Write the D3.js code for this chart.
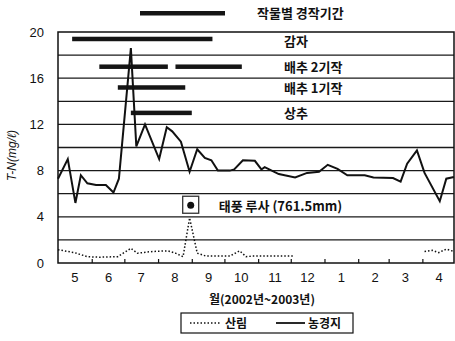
<!DOCTYPE html>
<html>
<head>
<meta charset="utf-8">
<script src="https://cdn.jsdelivr.net/npm/d3@7"></script>
<style>
  body { margin: 0; background: #fff; }
  svg { display: block; }
</style>
</head>
<body>
<svg id="chart" width="455" height="341"></svg>
<script>
// 농경지 (farmland) T-N, mg/l
const farmDates = [
  "2002-05-01", "2002-05-10", "2002-05-17", "2002-05-22", "2002-05-28", "2002-06-05",
  "2002-06-14", "2002-06-21", "2002-06-26", "2002-07-07", "2002-07-12", "2002-07-20",
  "2002-08-02", "2002-08-09", "2002-08-14", "2002-08-22", "2002-08-30", "2002-09-06",
  "2002-09-13", "2002-09-19", "2002-09-25", "2002-10-06", "2002-10-10", "2002-10-18",
  "2002-10-29", "2002-11-04", "2002-11-07", "2002-11-20", "2002-12-05", "2002-12-16",
  "2002-12-27", "2003-01-04", "2003-01-13", "2003-01-22", "2003-02-07", "2003-02-15",
  "2003-03-05", "2003-03-12", "2003-03-18", "2003-03-27", "2003-04-03", "2003-04-17",
  "2003-04-23", "2003-04-30"
];
const farmValues = [
  7.3, 9.0, 5.2, 7.6, 6.9, 6.75,
  6.75, 6.1, 7.3, 18.6, 10.1, 12.0,
  9.0, 11.75, 11.4, 10.5, 7.9, 9.85,
  9.1, 8.9, 8.0, 8.0, 8.1, 8.9,
  8.85, 8.1, 8.3, 7.7, 7.4, 7.8,
  7.9, 8.5, 8.15, 7.6, 7.6, 7.4,
  7.35, 7.05, 8.6, 9.75, 7.8, 5.35,
  7.3, 7.45
];

// 산림 (forest) T-N, mg/l; null = no measurement (gap in winter)
const forestDates = [
  "2002-05-01", "2002-05-16", "2002-05-28", "2002-06-08", "2002-06-25", "2002-06-30",
  "2002-07-07", "2002-07-13", "2002-07-27", "2002-08-10", "2002-08-17", "2002-08-24",
  "2002-08-30", "2002-09-06", "2002-09-14", "2002-10-06", "2002-10-15", "2002-10-21",
  "2002-10-27", "2002-12-04", "2003-01-01", "2003-04-03", "2003-04-10", "2003-04-16",
  "2003-04-23", "2003-04-30"
];
const forestValues = [
  1.15, 0.9, 0.55, 0.5, 0.55, 0.85,
  1.27, 0.85, 1.0, 1.05, 0.85, 0.55,
  3.9, 0.85, 0.6, 0.6, 1.05, 0.55,
  0.6, 0.6, null, 1.0, 1.1, 0.9,
  1.2, 1.0
];

// 작물별 경작기간 (cultivation period per crop)
const cropNames = ["감자", "배추 2기작", "배추 1기작", "상추"];
const cropPeriods = [
  [["2002-05-14", "2002-09-20"]],
  [["2002-06-08", "2002-08-10"], ["2002-08-17", "2002-10-17"]],
  [["2002-06-25", "2002-08-26"]],
  [["2002-07-07", "2002-09-01"]]
];

const typhoonDate = "2002-08-31";
const typhoonLabel = "태풍 루사 (761.5mm)";

const yTickValues = [0, 4, 8, 12, 16, 20];
const gridValues = [2, 4, 6, 8, 10, 12, 14, 16, 18];
const xTitle = "월(2002년~2003년)";
const yTitle = "T-N(mg/ℓ)";
const seriesNames = ["산림", "농경지"];

const parse = d3.timeParse("%Y-%m-%d");
const svg = d3.select("#chart");

const plotLeft = 58, plotRight = 454, plotTop = 32, plotBottom = 263;

const x = d3.scaleTime()
  .domain([new Date(2002, 4, 1), new Date(2003, 4, 1)])
  .range([plotLeft, 455]);
const y = d3.scaleLinear().domain([0, 20]).range([plotBottom, plotTop]);

const ink = "#111";
const numFont = "'Liberation Sans', Arial, sans-serif";
const krFont = "'Noto Sans CJK KR', 'Noto Sans', sans-serif";

// gridlines
svg.append("g")
  .selectAll("line")
  .data(gridValues)
  .join("line")
  .attr("x1", plotLeft).attr("x2", plotRight)
  .attr("y1", d => y(d)).attr("y2", d => y(d))
  .attr("stroke", "#1a1a1a")
  .attr("stroke-width", 1.3);

// frame
svg.append("rect")
  .attr("x", plotLeft).attr("y", plotTop)
  .attr("width", plotRight - plotLeft).attr("height", plotBottom - plotTop)
  .attr("fill", "none")
  .attr("stroke", ink)
  .attr("stroke-width", 1.5);

// y axis labels
svg.append("g")
  .selectAll("text")
  .data(yTickValues)
  .join("text")
  .attr("x", 44)
  .attr("y", d => y(d))
  .attr("dy", "0.35em")
  .attr("text-anchor", "end")
  .attr("font-family", numFont)
  .attr("font-size", 13)
  .attr("fill", ink)
  .text(d => d);

// month tick marks (pointing up into the plot)
const monthStarts = d3.timeMonth.range(new Date(2002, 5, 1), new Date(2003, 4, 1));
svg.append("g")
  .attr("transform", `translate(0,${plotBottom})`)
  .call(d3.axisBottom(x).tickValues(monthStarts).tickSize(-4).tickFormat(""))
  .call(g => g.select(".domain").remove())
  .call(g => g.selectAll("line").attr("stroke", ink).attr("stroke-width", 1.2));

// month labels at mid-month
const monthMids = d3.timeMonth.range(new Date(2002, 4, 1), new Date(2003, 4, 1))
  .map(d => d3.timeDay.offset(d, 15));
svg.append("g")
  .attr("transform", `translate(0,${plotBottom})`)
  .call(d3.axisBottom(x).tickValues(monthMids).tickSize(0).tickPadding(10)
    .tickFormat(d3.timeFormat("%-m")))
  .call(g => g.select(".domain").remove())
  .call(g => g.selectAll("text")
    .attr("font-family", numFont)
    .attr("font-size", 13)
    .attr("fill", ink));

// crop cultivation bars
const rowLevel = [19.4, 17.0, 15.2, 13.0];
cropPeriods.forEach((periods, i) => {
  svg.append("g")
    .selectAll("rect")
    .data(periods)
    .join("rect")
    .attr("x", d => x(parse(d[0])))
    .attr("width", d => x(parse(d[1])) - x(parse(d[0])))
    .attr("y", y(rowLevel[i]) - 2.2)
    .attr("height", 4.5)
    .attr("fill", "#151515");
  svg.append("text")
    .attr("x", 284)
    .attr("y", y(rowLevel[i]) + (i === 0 ? 3 : 1))
    .attr("dy", "0.35em")
    .attr("font-family", krFont)
    .attr("font-weight", 700)
    .attr("font-size", 13)
    .attr("fill", ink)
    .text(cropNames[i]);
});

// legend for crop bars at top
svg.append("rect")
  .attr("x", 140).attr("y", 11)
  .attr("width", 85).attr("height", 4.5)
  .attr("fill", "#151515");
svg.append("text")
  .attr("x", 257).attr("y", 13.5)
  .attr("dy", "0.35em")
  .attr("font-family", krFont)
  .attr("font-weight", 700)
  .attr("font-size", 13)
  .attr("fill", ink)
  .text("작물별 경작기간");

// series lines
const farmData = farmDates.map((d, i) => ({ date: parse(d), value: farmValues[i] }));
const forestData = forestDates.map((d, i) => ({ date: parse(d), value: forestValues[i] }));

const line = d3.line()
  .defined(d => d.value != null)
  .x(d => x(d.date))
  .y(d => y(d.value));

svg.append("path")
  .datum(forestData)
  .attr("d", line)
  .attr("fill", "none")
  .attr("stroke", ink)
  .attr("stroke-width", 1.5)
  .attr("stroke-dasharray", "1.5,2");

svg.append("path")
  .datum(farmData)
  .attr("d", line)
  .attr("fill", "none")
  .attr("stroke", ink)
  .attr("stroke-width", 2)
  .attr("stroke-linejoin", "miter");

// typhoon Rusa marker
const tx = x(parse(typhoonDate));
const ty = y(5);
svg.append("rect")
  .attr("x", tx - 8).attr("y", ty - 9)
  .attr("width", 16).attr("height", 17)
  .attr("fill", "#fff")
  .attr("stroke", "#333")
  .attr("stroke-width", 1.3);
svg.append("circle")
  .attr("cx", tx).attr("cy", ty)
  .attr("r", 3.5)
  .attr("fill", ink);
svg.append("text")
  .attr("x", tx + 28).attr("y", ty + 1)
  .attr("dy", "0.35em")
  .attr("font-family", krFont)
  .attr("font-weight", 700)
  .attr("font-size", 13)
  .attr("fill", ink)
  .text(typhoonLabel);

// axis titles
svg.append("text")
  .attr("transform", `translate(16,${(plotTop + plotBottom) / 2 + 8}) rotate(-90)`)
  .attr("text-anchor", "middle")
  .attr("font-family", numFont)
  .attr("font-style", "italic")
  .attr("font-size", 12)
  .attr("fill", ink)
  .text(yTitle);

svg.append("text")
  .attr("x", 262).attr("y", 300)
  .attr("dy", "0.35em")
  .attr("text-anchor", "middle")
  .attr("font-family", krFont)
  .attr("font-weight", 700)
  .attr("font-size", 12)
  .attr("fill", ink)
  .text(xTitle);

// series legend
const legend = svg.append("g").attr("transform", "translate(181,313)");
legend.append("rect")
  .attr("width", 172).attr("height", 20)
  .attr("fill", "#fff")
  .attr("stroke", ink)
  .attr("stroke-width", 1.2);
legend.append("line")
  .attr("x1", 9).attr("x2", 39).attr("y1", 10).attr("y2", 10)
  .attr("stroke", ink).attr("stroke-width", 1.3)
  .attr("stroke-dasharray", "1.5,2");
legend.append("line")
  .attr("x1", 95).attr("x2", 124).attr("y1", 10).attr("y2", 10)
  .attr("stroke", ink).attr("stroke-width", 1.8);
legend.selectAll("text.lg")
  .data(seriesNames)
  .join("text")
  .attr("class", "lg")
  .attr("x", (d, i) => i === 0 ? 44 : 127)
  .attr("y", 10.5)
  .attr("dy", "0.35em")
  .attr("font-family", krFont)
  .attr("font-weight", 700)
  .attr("font-size", 12)
  .attr("fill", ink)
  .text(d => d);
</script>
</body>
</html>
